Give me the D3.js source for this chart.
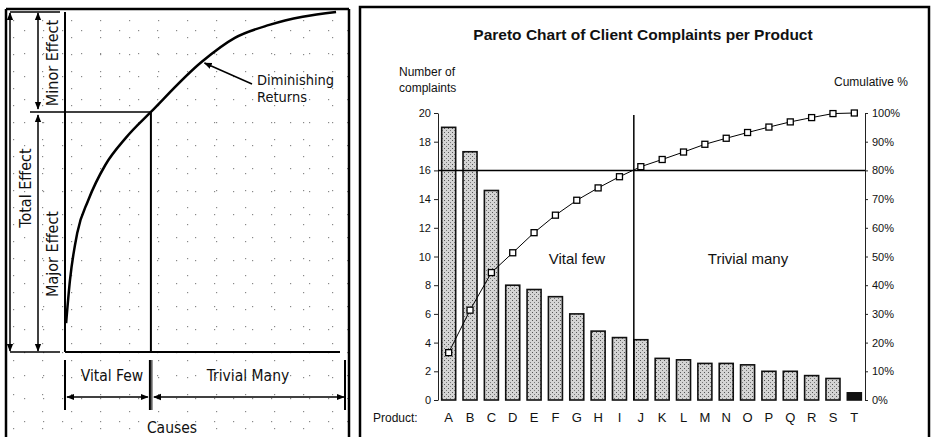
<!DOCTYPE html>
<html>
<head>
<meta charset="utf-8">
<script src="https://cdn.jsdelivr.net/npm/d3@7/dist/d3.min.js"></script>
<style>
  body { margin: 0; background: #fff; }
  svg { display: block; }
  .diag text { font-family: "DejaVu Sans Condensed", "Liberation Sans Narrow", "DejaVu Sans", sans-serif; fill: #111; }
  .pareto text { font-family: "Liberation Sans", Arial, sans-serif; fill: #111; }
</style>
</head>
<body>
<div id="chart"></div>
<script>
// Pareto chart data
let products = ["A", "B", "C", "D", "E", "F", "G", "H", "I", "J", "K", "L", "M", "N", "O", "P", "Q", "R", "S", "T"];
let complaints = [19.0, 17.3, 14.6, 8.0, 7.7, 7.2, 6.0, 4.8, 4.35, 4.2, 2.9, 2.8, 2.55, 2.55, 2.45, 2.0, 2.0, 1.7, 1.5, 0.5];
let cumulativePct = [16.5, 31.3, 44.4, 51.3, 58.3, 64.4, 69.6, 73.9, 77.8, 81.3, 83.8, 86.4, 89.1, 91.2, 93.2, 95.1, 96.9, 98.4, 99.8, 100];
let countTicks = [0, 2, 4, 6, 8, 10, 12, 14, 16, 18, 20];
let pctTicks = [0, 10, 20, 30, 40, 50, 60, 70, 80, 90, 100];
let cutoffPct = 80;
let cutoffProduct = "J";

// Diminishing returns curve (cause % vs effect %)
let effectCurve = [
  [0.4, 8.5], [1.8, 21.2], [4.4, 35], [8.4, 44.7], [14.5, 55], [21.8, 62.9],
  [30.9, 70.6], [49.1, 85.3], [61.1, 92.4], [73.5, 96.2], [85.5, 98.6], [97.5, 100]
];
let splitCause = 30.9;
let splitEffect = 70.6;

const svg = d3.select("#chart").append("svg").attr("width", 931).attr("height", 437);
const defs = svg.append("defs");

// arrow head
defs.append("marker")
  .attr("id", "arrow")
  .attr("viewBox", "0 0 10 10")
  .attr("refX", 9).attr("refY", 5)
  .attr("markerWidth", 8).attr("markerHeight", 8)
  .attr("markerUnits", "userSpaceOnUse")
  .attr("orient", "auto-start-reverse")
  .append("path").attr("d", "M0,1 L10,5 L0,9 z").attr("fill", "#000");

// stipple fill for the bars
let stipple = defs.append("pattern").attr("id", "stipple")
  .attr("width", 4).attr("height", 4).attr("patternUnits", "userSpaceOnUse");
stipple.append("rect").attr("width", 4).attr("height", 4).attr("fill", "#d4d4d4");
stipple.append("rect").attr("x", 0).attr("y", 0).attr("width", 1).attr("height", 1).attr("fill", "#555");
stipple.append("rect").attr("x", 2).attr("y", 2).attr("width", 1).attr("height", 1).attr("fill", "#777");

// speckle texture of the scanned diagram
[[19, 23, 5, 7], [29, 17, 13, 3]].forEach((p, i) => {
  let pat = defs.append("pattern").attr("id", "speck" + i)
    .attr("width", p[0]).attr("height", p[1]).attr("patternUnits", "userSpaceOnUse");
  pat.append("rect").attr("x", p[2]).attr("y", p[3]).attr("width", 1.2).attr("height", 1.2).attr("fill", "#888");
});

drawDiagram();
drawPareto();

// Left panel: conceptual diagram
function drawDiagram() {
  const g = svg.append("g").attr("class", "diag");
  const cx = d3.scaleLinear().domain([0, 100]).range([65, 343]);
  const ey = d3.scaleLinear().domain([0, 100]).range([352, 12]);

  g.append("rect").attr("x", 6).attr("y", 9).attr("width", 343).attr("height", 440).attr("fill", "url(#speck0)");
  g.append("rect").attr("x", 6).attr("y", 9).attr("width", 343).attr("height", 440).attr("fill", "url(#speck1)");

  const line = (x1, y1, x2, y2, w) =>
    g.append("line").attr("x1", x1).attr("y1", y1).attr("x2", x2).attr("y2", y2)
      .attr("stroke", "#000").attr("stroke-width", w || 2);

  // frame
  line(6, 9, 349, 9, 2.5);
  line(6, 9, 6, 437, 2.5);
  line(349, 9, 349, 437, 2.5);

  // extension lines
  line(10, ey(100), 60, ey(100), 1.5);
  line(10, ey(0), 60, ey(0), 1.5);
  line(30, ey(splitEffect), cx(splitCause), ey(splitEffect), 1.5);

  // effect arrows
  line(10, ey(100) + 1, 10, ey(0) - 1, 1.5).attr("marker-start", "url(#arrow)").attr("marker-end", "url(#arrow)");
  line(38, ey(100) + 1, 38, ey(splitEffect) - 3, 1.5).attr("marker-start", "url(#arrow)").attr("marker-end", "url(#arrow)");
  line(38, ey(splitEffect) + 3, 38, ey(0) - 1, 1.5).attr("marker-start", "url(#arrow)").attr("marker-end", "url(#arrow)");

  // plot box
  line(cx(0), ey(100), cx(0), ey(0), 2);
  line(cx(0), ey(0), cx(100) - 3, ey(0), 2);
  line(cx(splitCause), ey(splitEffect), cx(splitCause), ey(0), 2);

  // curve
  g.append("path")
    .datum(effectCurve)
    .attr("d", d3.line().x(d => cx(d[0])).y(d => ey(d[1])).curve(d3.curveMonotoneX))
    .attr("fill", "none").attr("stroke", "#000").attr("stroke-width", 2.5);

  // rotated labels
  const vlabel = (x, y, t) =>
    g.append("text").attr("transform", `translate(${x},${y}) rotate(-90)`)
      .attr("text-anchor", "middle").attr("dominant-baseline", "central")
      .attr("font-size", 16).text(t);
  vlabel(25, 188, "Total Effect");
  vlabel(52, 63, "Minor Effect");
  vlabel(52, 254, "Major Effect");

  // diminishing returns pointer
  line(252, 84, cx(49.1) + 3, ey(85.3) + 1, 1.5).attr("marker-end", "url(#arrow)");
  g.append("text").attr("x", 257).attr("y", 85).attr("font-size", 14.5).text("Diminishing");
  g.append("text").attr("x", 257).attr("y", 102).attr("font-size", 14.5).text("Returns");

  // causes brackets
  line(cx(0), 360, cx(0), 410, 2);
  line(cx(splitCause) - 1, 360, cx(splitCause) - 1, 410, 2);
  line(cx(splitCause) + 1, 360, cx(splitCause) + 1, 410, 1);
  line(cx(100) + 2, 360, cx(100) + 2, 410, 2);
  line(cx(0) + 2, 397, cx(splitCause) - 3, 397, 1.5).attr("marker-start", "url(#arrow)").attr("marker-end", "url(#arrow)");
  line(cx(splitCause) + 3, 397, cx(100) + 1, 397, 1.5).attr("marker-start", "url(#arrow)").attr("marker-end", "url(#arrow)");

  g.append("text").attr("x", 112).attr("y", 381).attr("text-anchor", "middle").attr("font-size", 15.5).text("Vital Few");
  g.append("text").attr("x", 248).attr("y", 381).attr("text-anchor", "middle").attr("font-size", 15.5).text("Trivial Many");
  g.append("text").attr("x", 172).attr("y", 433).attr("text-anchor", "middle").attr("font-size", 15.5).text("Causes");
}

// Right panel: Pareto chart
function drawPareto() {
  const g = svg.append("g").attr("class", "pareto");

  // frame
  g.append("rect").attr("x", 360).attr("y", 7).attr("width", 569).attr("height", 440)
    .attr("fill", "#fff").attr("stroke", "#000").attr("stroke-width", 2.5);

  const x = d3.scaleBand().domain(products).range([438, 865]).paddingInner(0.344).paddingOuter(0.172);
  const yCount = d3.scaleLinear().domain([0, 20]).range([400, 113]);
  const yPct = d3.scaleLinear().domain([0, 100]).range([400, 113]);

  g.append("text").attr("x", 643).attr("y", 40).attr("text-anchor", "middle")
    .attr("font-size", 15.5).attr("font-weight", "bold").text("Pareto Chart of Client Complaints per Product");

  g.append("text").attr("x", 399).attr("y", 76).attr("font-size", 12).text("Number of");
  g.append("text").attr("x", 399).attr("y", 92).attr("font-size", 12).text("complaints");
  g.append("text").attr("x", 908).attr("y", 86).attr("text-anchor", "end").attr("font-size", 12).text("Cumulative %");

  // bars
  g.selectAll(".bar")
    .data(products)
    .enter()
    .append("rect")
    .attr("class", "bar")
    .attr("x", d => x(d))
    .attr("y", (d, i) => yCount(complaints[i]))
    .attr("width", x.bandwidth())
    .attr("height", (d, i) => yCount(0) - yCount(complaints[i]))
    .attr("fill", (d, i) => complaints[i] < 1 ? "#111" : "url(#stipple)")
    .attr("stroke", "#111")
    .attr("stroke-width", 1.6);

  // axes
  let leftAxis = g.append("g").attr("transform", "translate(438,0)")
    .call(d3.axisLeft(yCount).tickValues(countTicks).tickSize(4).tickSizeOuter(0).tickPadding(3));
  let rightAxis = g.append("g").attr("transform", "translate(865,0)")
    .call(d3.axisRight(yPct).tickValues(pctTicks).tickFormat(d => d + "%").tickSize(3).tickSizeOuter(0).tickPadding(4));
  [leftAxis, rightAxis].forEach(a => {
    a.selectAll("text").attr("font-size", 11).attr("font-family", "Liberation Sans, Arial, sans-serif").attr("fill", "#111");
    a.selectAll("line,path").attr("stroke", "#222");
  });

  // cutoff lines
  g.append("line").attr("x1", 438).attr("x2", 865).attr("y1", yPct(cutoffPct)).attr("y2", yPct(cutoffPct))
    .attr("stroke", "#000").attr("stroke-width", 1.5);
  g.append("line").attr("x1", x(cutoffProduct)).attr("x2", x(cutoffProduct))
    .attr("y1", yPct(100) + 2).attr("y2", yPct(0))
    .attr("stroke", "#000").attr("stroke-width", 1.5);

  // cumulative line
  g.append("path")
    .datum(cumulativePct)
    .attr("d", d3.line().x((d, i) => x(products[i]) + x.bandwidth() / 2).y(d => yPct(d)))
    .attr("fill", "none").attr("stroke", "#000").attr("stroke-width", 1);

  g.selectAll(".marker")
    .data(cumulativePct)
    .enter()
    .append("rect")
    .attr("class", "marker")
    .attr("x", (d, i) => x(products[i]) + x.bandwidth() / 2 - 3)
    .attr("y", d => yPct(d) - 3)
    .attr("width", 6).attr("height", 6)
    .attr("fill", "#fff").attr("stroke", "#000").attr("stroke-width", 1.3);

  // region labels
  g.append("text").attr("x", 577).attr("y", 264).attr("text-anchor", "middle").attr("font-size", 15).text("Vital few");
  g.append("text").attr("x", 748).attr("y", 264).attr("text-anchor", "middle").attr("font-size", 15).text("Trivial many");

  // product labels
  g.append("text").attr("x", 373).attr("y", 422).attr("font-size", 12).text("Product:");
  g.selectAll(".plabel")
    .data(products)
    .enter()
    .append("text")
    .attr("class", "plabel")
    .attr("x", d => x(d) + x.bandwidth() / 2)
    .attr("y", 422)
    .attr("text-anchor", "middle")
    .attr("font-size", 13)
    .text(d => d);
}
</script>
</body>
</html>
